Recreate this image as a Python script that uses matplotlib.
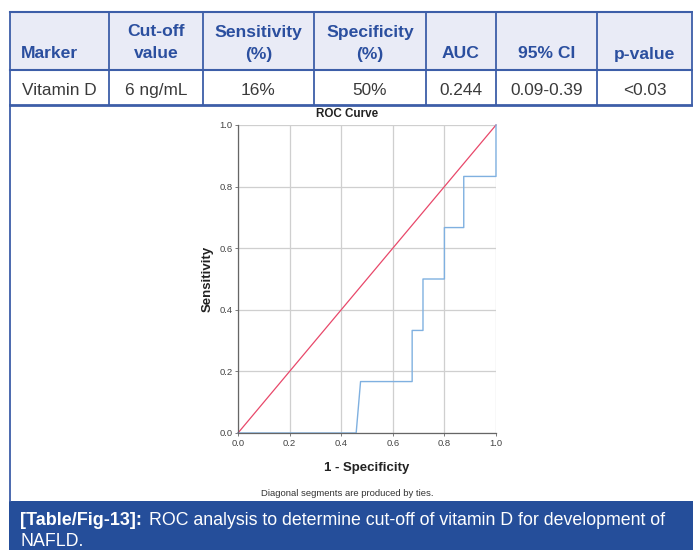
"""
ROC table + curve figure (vitamin D cut-off for NAFLD).
"""

import matplotlib
matplotlib.use("Agg")
import matplotlib.pyplot as plt
from matplotlib.patches import Rectangle
from matplotlib import font_manager

# --- table data ---
header_top = ["", "Cut-off", "Sensitivity", "Specificity", "", "", ""]
header_bottom = ["Marker", "value", "(%)", "(%)", "AUC", "95% CI", "p-value"]
row_values = ["Vitamin D", "6 ng/mL", "16%", "50%", "0.244", "0.09-0.39", "<0.03"]

# --- ROC curve data (1 - specificity, sensitivity) ---
fpr = [0.0, 0.458, 0.475, 0.675, 0.675, 0.717, 0.717, 0.800, 0.800, 0.875, 0.875, 1.0, 1.0]
tpr = [0.0, 0.0, 0.167, 0.167, 0.333, 0.333, 0.500, 0.500, 0.667, 0.667, 0.833, 0.833, 1.0]
ref_line = [0.0, 1.0]
ticks = [0.0, 0.2, 0.4, 0.6, 0.8, 1.0]

caption_bold = "[Table/Fig-13]:"
caption_rest = "ROC analysis to determine cut-off of vitamin D for development of"
caption_line2 = "NAFLD."

BLUE = "#3d5ea8"
HEAD_TXT = "#2b4f9f"
HEAD_BG = "#e9ebf6"
CAP_BG = "#254e9a"
TXT = "#3a3a3a"

plt.rcParams["font.family"] = ["Liberation Sans", "DejaVu Sans"]

# narrow font for the SPSS-style chart text, if it is there
names = {f.name for f in font_manager.fontManager.ttflist}
CHART_FONT = "Liberation Sans Narrow" if "Liberation Sans Narrow" in names else "Liberation Sans"

W, H = 693, 550
fig = plt.figure(figsize=(W / 100, H / 100), dpi=100)

# background axes in pixel coordinates
bg = fig.add_axes([0, 0, 1, 1])
bg.set_xlim(0, W)
bg.set_ylim(H, 0)
bg.axis("off")

col_edges = [10, 109, 203, 314, 426, 496, 597, 692]
top, mid, bot = 12, 70, 105

bg.add_patch(Rectangle((col_edges[0], top), col_edges[-1] - col_edges[0], mid - top,
                       facecolor=HEAD_BG, edgecolor="none"))
for y, lw in [(top, 1.5), (mid, 1.5), (bot, 2.0)]:
    bg.plot([col_edges[0], col_edges[-1]], [y, y], color=BLUE, lw=lw)
for x in col_edges:
    bg.plot([x, x], [top, bot], color=BLUE, lw=1.3)

for i in range(len(row_values)):
    left, right = col_edges[i], col_edges[i + 1]
    cx = (left + right) / 2
    if i == 0:
        hx, ha = left + 11, "left"
    else:
        hx, ha = cx, "center"
    if header_top[i]:
        bg.text(cx, 36.5, header_top[i], ha="center", va="baseline",
                fontsize=12.6, fontweight="bold", color=HEAD_TXT)
    bg.text(hx, 58.5, header_bottom[i], ha=ha, va="baseline",
            fontsize=12.6, fontweight="bold", color=HEAD_TXT)
    bg.text(cx, 95, row_values[i], ha="center", va="baseline",
            fontsize=12.4, color=TXT)

# figure area left border
bg.plot([10, 10], [bot, 501], color=BLUE, lw=1.3)

# caption bar
bg.add_patch(Rectangle((9, 501), W - 9, H - 501, facecolor=CAP_BG, edgecolor="none"))
t_bold = bg.text(20, 525, caption_bold, ha="left", va="baseline", fontsize=13,
                 fontweight="bold", color="white")
fig.canvas.draw()
bb = t_bold.get_window_extent(renderer=fig.canvas.get_renderer())
# bg spans the whole figure at 1 unit per pixel, so display x == data x
bg.text(bb.x1 + 7, 525, caption_rest, ha="left", va="baseline", fontsize=12.8,
        color="white")
bg.text(20, 546.5, caption_line2, ha="left", va="baseline", fontsize=12.8, color="white")

# --- ROC chart ---
ax_l, ax_r, ax_t, ax_b = 238, 496, 125, 433
ax = fig.add_axes([ax_l / W, (H - ax_b) / H, (ax_r - ax_l) / W, (ax_b - ax_t) / H])
ax.set_xlim(0, 1)
ax.set_ylim(0, 1)
ax.set_xticks(ticks)
ax.set_yticks(ticks)
ax.set_xticklabels([f"{t:.1f}" for t in ticks], family=CHART_FONT)
ax.set_yticklabels([f"{t:.1f}" for t in ticks], family=CHART_FONT)
ax.grid(True, color="#cfcfcf", lw=0.9)
ax.set_axisbelow(True)
for s in ["top", "right"]:
    ax.spines[s].set_visible(False)
for s in ["left", "bottom"]:
    ax.spines[s].set_color("#666666")
    ax.spines[s].set_linewidth(0.9)
ax.tick_params(length=2.5, width=0.6, color="#666666", labelsize=6.8,
               labelcolor="#444444", pad=1.5)

ax.plot(ref_line, ref_line, color="#e8486a", lw=0.9, clip_on=False)
ax.plot(fpr, tpr, color="#7fb0e0", lw=1.0, clip_on=False)

bg.text(347, 114, "ROC Curve", ha="center", va="center", fontsize=8.4,
        fontweight="bold", color="#222222", family=CHART_FONT)
bg.text(367, 468, "1 - Specificity", ha="center", va="center", fontsize=9.5,
        fontweight="bold", color="#222222", family=CHART_FONT)
bg.text(208, 279, "Sensitivity", ha="center", va="center", fontsize=9.5,
        fontweight="bold", color="#222222", rotation=90, family=CHART_FONT)
bg.text(347, 493, "Diagonal segments are produced by ties.", ha="center", va="center",
        fontsize=6.8, color="#333333", family=CHART_FONT)

plt.savefig("out.png", dpi=100)
